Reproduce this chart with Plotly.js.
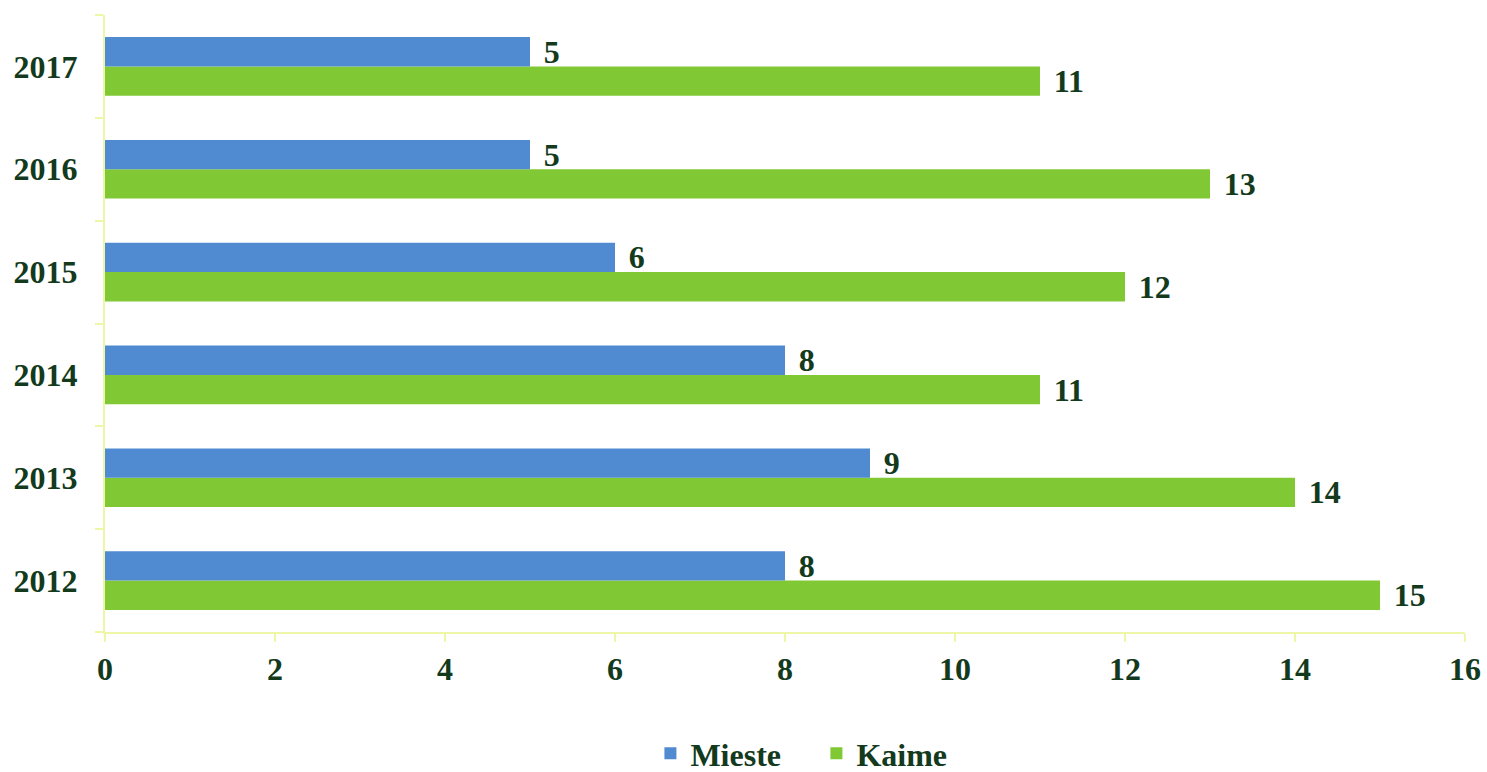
<!DOCTYPE html>
<html><head><meta charset="utf-8">
<script src="https://cdn.plot.ly/plotly-3.0.1.min.js"></script>
<style>html,body{margin:0;padding:0;background:#fff}#chart{width:1487px;height:772px}</style>
</head><body><div id="chart"></div>
<script>
const years = ["2012","2013","2014","2015","2016","2017"];
const mieste = [8, 9, 8, 6, 5, 5];
const kaime = [15, 14, 11, 12, 13, 11];
const xTicks = [0,2,4,6,8,10,12,14,16];

const txtColor = "#133a1c";
const axisColor = "#eef6a8";
const fontFam = "'Liberation Serif', 'Times New Roman', serif";
const FS = 32;
const pad = "\u2004";

const traces = [
  {type:"bar", orientation:"h", name:"Kaime", y:years, x:kaime,
   marker:{color:"#80c935"}, text:kaime.map(v=>pad+v), textposition:"outside", constraintext:"none",
   textfont:{family:fontFam, size:FS, color:txtColor, weight:"bold"}, cliponaxis:false, hoverinfo:"none"},
  {type:"bar", orientation:"h", name:"Mieste", y:years, x:mieste,
   marker:{color:"#508bd2"}, text:mieste.map(v=>pad+v), textposition:"outside", constraintext:"none",
   textfont:{family:fontFam, size:FS, color:txtColor, weight:"bold"}, cliponaxis:false, hoverinfo:"none"}
];

const layout = {
  width:1487, height:772,
  margin:{l:105, r:22, t:15, b:140},
  barmode:"group", bargap:0.43, bargroupgap:0,
  paper_bgcolor:"#fff", plot_bgcolor:"#fff",
  font:{family:fontFam, size:FS, color:txtColor},
  showlegend:true,
  legend:{orientation:"h", x:0.4374, xanchor:"left", xref:"container", yref:"container", y:0.024, yanchor:"middle",
          traceorder:"reversed", font:{family:fontFam, size:FS, color:txtColor, weight:"bold"},
          itemwidth:30, entrywidth:121, entrywidthmode:"pixels"},
  xaxis:{range:[0,16], tickvals:xTicks, ticktext:xTicks.map(String), showgrid:false, zeroline:false,
         showline:true, linecolor:axisColor, linewidth:2, ticks:"outside", ticklen:8, tickcolor:axisColor, tickwidth:2,
         tickfont:{family:fontFam, size:FS, color:txtColor, weight:"bold"}, fixedrange:true},
  yaxis:{type:"category", categoryorder:"array", categoryarray:years, showgrid:false, zeroline:false,
         showline:true, linecolor:axisColor, linewidth:2, ticks:"outside", ticklen:8, tickcolor:axisColor, tickwidth:2,
         tickson:"boundaries", ticklabelstandoff:19,
         tickfont:{family:fontFam, size:FS, color:txtColor, weight:"bold"}, fixedrange:true}
};
Plotly.newPlot("chart", traces, layout, {displayModeBar:false, staticPlot:true});
</script></body></html>
